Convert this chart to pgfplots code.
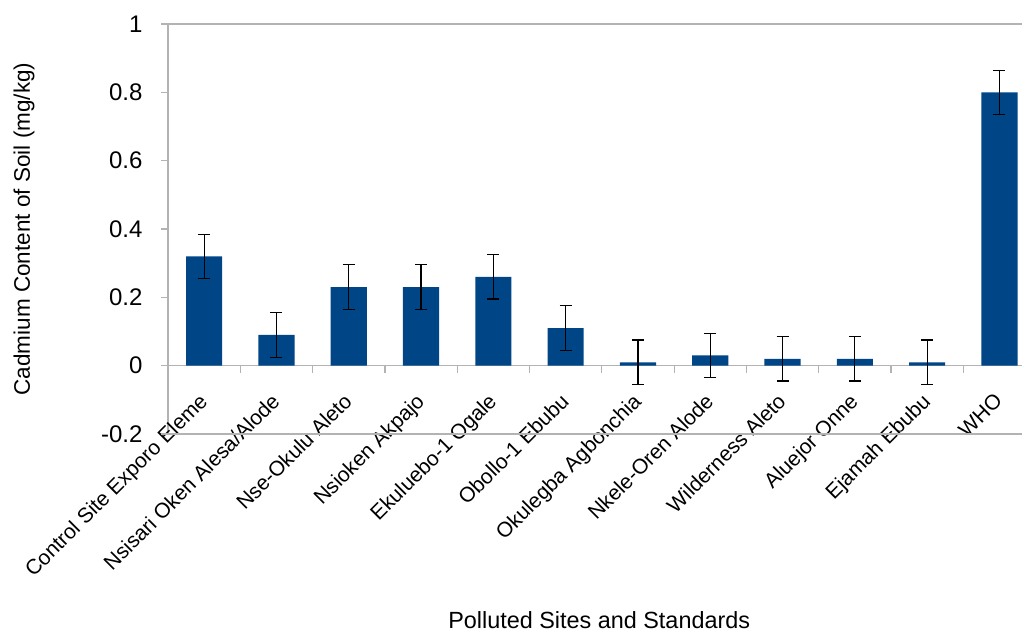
\documentclass[border=0pt]{standalone}
\usepackage{pgfplots}
\pgfplotsset{compat=1.18}
\usepackage{fontspec}
\setmainfont{Liberation Sans}
\definecolor{barblue}{RGB}{0,69,134}
\definecolor{axgray}{RGB}{179,179,179}
\pgfplotstableread{
x y e
0 0.32 0.065
1 0.09 0.065
2 0.23 0.065
3 0.23 0.065
4 0.26 0.065
5 0.11 0.065
6 0.01 0.065
7 0.03 0.065
8 0.02 0.065
9 0.02 0.065
10 0.01 0.065
11 0.80 0.065
}\cadmium
\begin{document}
\begin{tikzpicture}
\useasboundingbox (-168bp,-200bp) rectangle (854bp,434bp);
% category separator ticks on the zero line
\begin{axis}[
 at={(0bp,68.333bp)}, anchor=south west,
 scale only axis, width=867.6bp, height=341.667bp,
 xmin=-0.5, xmax=11.5, ymin=0, ymax=1,
 axis x line=bottom, axis y line=none,
 axis line style={-, axgray, line width=1.2bp},
 xtick={-0.5,0.5,...,11.5}, xticklabels={},
 tick align=outside, major tick length=7bp,
 tick style={axgray, line width=1.2bp},
]
\end{axis}
\begin{axis}[
 name=ax,
 at={(0bp,0bp)}, anchor=south west,
 scale only axis, width=867.6bp, height=410bp,
 xmin=-0.5, xmax=11.5, ymin=-0.2, ymax=1,
 axis y line=left, axis x line=middle,
 axis line style={-, axgray, line width=1.2bp},
 tick align=outside,
 major tick length=7bp,
 tick style={axgray, line width=1.2bp},
 ytick={-0.2,0,0.2,0.4,0.6,0.8,1},
 yticklabels={-0.2,0,0.2,0.4,0.6,0.8,1},
 extra y ticks={-0.2,1}, extra y tick labels={},
 extra y tick style={grid=major, major grid style={axgray, line width=1.2bp}},
 yticklabel style={font=\fontsize{24bp}{28bp}\selectfont, xshift=-15bp},
 xtick={0,...,11},
 xtick style={draw=none},
 xticklabels={Control Site Exporo Eleme, Nsisari Oken Alesa/Alode, Nse-Okulu Aleto, Nsioken Akpajo, Ekuluebo-1 Ogale, Obollo-1 Ebubu, Okulegba Agbonchia, Nkele-Oren Alode, Wilderness Aleto, Aluejor Onne, Ejamah Ebubu, WHO},
 xticklabel style={font=\fontsize{21bp}{25bp}\selectfont, rotate=45, anchor=north east, inner sep=0bp, xshift=-18bp, yshift=-9bp},
 xlabel={Polluted Sites and Standards},
 xlabel style={font=\fontsize{23.4bp}{27bp}\selectfont, inner sep=1bp, at={(axis description cs:0.497,-0.455)}, anchor=center},
 ylabel={Cadmium Content of Soil (mg/kg)},
 ylabel style={font=\fontsize{22.5bp}{27bp}\selectfont, at={(axis description cs:-0.166,0.5)}, anchor=center},
]
\addplot[ybar, bar width=0.5, fill=barblue, draw=none,
  error bars/.cd, y dir=both, y explicit,
  error bar style={black, line width=1.2bp},
  error mark options={rotate=90, mark size=6bp, black, line width=1.2bp}]
  table[x=x, y=y, y error=e]{\cadmium};
\end{axis}
\end{tikzpicture}
\end{document}
